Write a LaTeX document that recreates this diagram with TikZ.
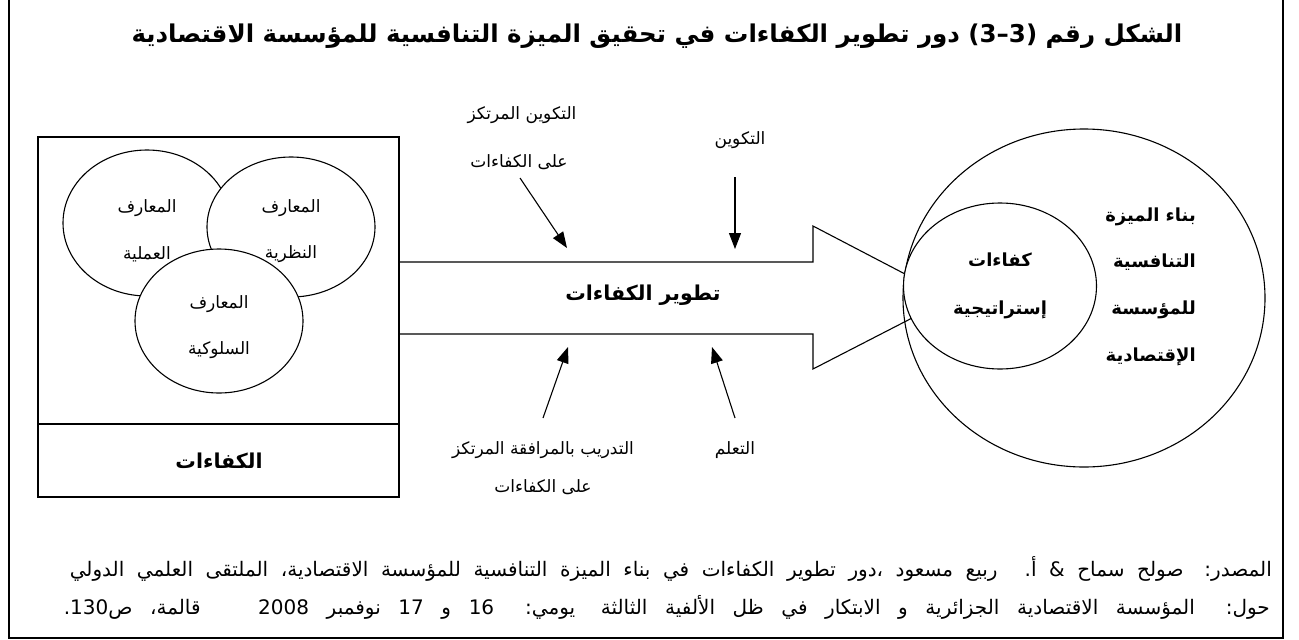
\documentclass[tikz,border=0pt]{standalone}
\usepackage{fontspec}
\usetikzlibrary{arrows.meta,shapes.geometric}
\TeXXeTstate=1
\newfontfamily\arabicfont[Script=Arabic]{DejaVu Sans}
\newcommand\artxt[1]{{\arabicfont\beginR #1\endR}}
\begin{document}
\begin{tikzpicture}[x=1pt,y=-1pt,
  shp/.style={draw=black,line width=1.1pt},
  ell/.style={shp,ellipse,fill=white,inner sep=0pt,outer sep=0pt},
  lbl/.style={inner sep=0pt,font=\fontsize{17}{20}\selectfont},
  blbl/.style={inner sep=0pt,font=\fontsize{18}{21}\selectfont\bfseries},
  bigbl/.style={inner sep=0pt,font=\fontsize{20.5}{24}\selectfont\bfseries},
  srcl/.style={inner sep=0pt,anchor=east,font=\fontsize{20}{24}\selectfont},
  arr/.style={line width=1.1pt,-{Triangle[width=12pt,length=16pt]}},
]
\useasboundingbox (0,0) rectangle (1299,640);
\fill[white] (0,0) rectangle (1299,640);
% outer frame (open at the top)
\draw[line width=2pt] (9,0) -- (9,638) -- (1283,638) -- (1283,0);
% title
\node[inner sep=0pt,font=\fontsize{24.5}{29}\selectfont\bfseries] (title) at (657,36)
  {\artxt{الشكل رقم (3–3) دور تطوير الكفاءات في تحقيق الميزة التنافسية للمؤسسة الاقتصادية}};
% big arrow
\draw[shp,fill=white] (400,262) -- (813,262) -- (813,226) -- (951,298) -- (813,369) -- (813,334) -- (400,334);
\node[bigbl] (dev) at (643,295) {\artxt{تطوير الكفاءات}};
% left box
\node[shp,minimum width=361pt,minimum height=360pt,inner sep=0pt,outer sep=0pt] (box) at (218.5,317) {};
\draw[shp] (38,424) -- (399,424);
\node[bigbl] (kaf) at (219,461) {\artxt{الكفاءات}};
\node[ell,minimum width=168pt,minimum height=146pt] (e1) at (147,223) {};
\node[ell,minimum width=168pt,minimum height=140pt] (e2) at (291,227) {};
\node[ell,minimum width=168pt,minimum height=144pt] (e3) at (219,321) {};
\node[lbl] (e1a) at (147,208) {\artxt{المعارف}};
\node[lbl] (e1b) at (147,254) {\artxt{العملية}};
\node[lbl] (e2a) at (291,208) {\artxt{المعارف}};
\node[lbl] (e2b) at (291,254) {\artxt{النظرية}};
\node[lbl] (e3a) at (219,304) {\artxt{المعارف}};
\node[lbl] (e3b) at (219,350) {\artxt{السلوكية}};
% right circles
\node[shp,ellipse,minimum width=362pt,minimum height=338pt,inner sep=0pt,outer sep=0pt] (big) at (1084,298) {};
\node[ell,minimum width=193pt,minimum height=166pt] (inner) at (1000,286) {};
\node[blbl] (in1) at (1000,260) {\artxt{كفاءات}};
\node[blbl] (in2) at (1000,310) {\artxt{إستراتيجية}};
\node[blbl,anchor=east] (r1) at (1196,217) {\artxt{بناء الميزة}};
\node[blbl,anchor=east] (r2) at (1196,262) {\artxt{التنافسية}};
\node[blbl,anchor=east] (r3) at (1196,310) {\artxt{للمؤسسة}};
\node[blbl,anchor=east] (r4) at (1196,357) {\artxt{الإقتصادية}};
% input labels and arrows
\node[lbl] (t1a) at (522,115) {\artxt{التكوين المرتكز}};
\node[lbl] (t1b) at (519,162) {\artxt{على الكفاءات}};
\node[lbl] (t2) at (740,140) {\artxt{التكوين}};
\node[lbl] (b1a) at (543,450) {\artxt{التدريب بالمرافقة المرتكز}};
\node[lbl] (b1b) at (543,487) {\artxt{على الكفاءات}};
\node[lbl] (b2) at (735,450) {\artxt{التعلم}};
\coordinate (p1s) at (520,178); \coordinate (p1e) at (567,248);
\coordinate (p2s) at (735,177); \coordinate (p2e) at (735,249);
\coordinate (p3s) at (543,418); \coordinate (p3e) at (568,347);
\coordinate (p4s) at (735,418); \coordinate (p4e) at (712,347);
\draw[arr] (p1s) -- (p1e);
\draw[arr] (p2s) -- (p2e);
\draw[arr] (p3s) -- (p3e);
\draw[arr] (p4s) -- (p4e);
% source
\node[srcl] (src1) at (1272,569)
  {\hbox to 1202pt{\arabicfont\beginR المصدر: صولح سماح \& أ. ربيع مسعود ،دور تطوير الكفاءات في بناء الميزة التنافسية للمؤسسة الاقتصادية، الملتقى العلمي الدولي\endR}};
\node[srcl] (src2) at (1270,607)
  {\hbox to 1206pt{\arabicfont\beginR حول: المؤسسة الاقتصادية الجزائرية و الابتكار في ظل الألفية الثالثة\hspace{8pt} يومي: 16 و 17 نوفمبر 2008\hspace{40pt} قالمة، ص130.\endR}};
\end{tikzpicture}
\end{document}
